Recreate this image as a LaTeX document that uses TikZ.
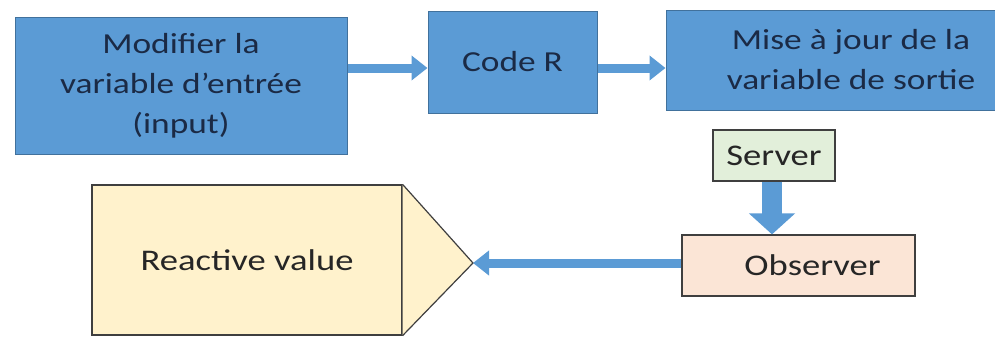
\documentclass[tikz,border=0pt]{standalone}
\usepackage{fontspec}
\setmainfont{Carlito}[FakeStretch=1.22]
\usetikzlibrary{arrows.meta, positioning, calc}
\definecolor{boxblue}{HTML}{5B9BD5}
\definecolor{borderblue}{HTML}{41719C}
\definecolor{textnavy}{HTML}{1B2A45}
\definecolor{servergreen}{HTML}{E2EFDA}
\definecolor{observerpink}{HTML}{FBE5D6}
\definecolor{reactiveyellow}{HTML}{FFF2CC}
\definecolor{edgegray}{HTML}{3F3F3F}

\begin{document}
\begin{tikzpicture}[x=1pt, y=-1pt,
  bluebox/.style={rectangle, draw=borderblue, fill=boxblue, line width=1pt, text=textnavy, align=center, font=\fontsize{29}{40}\selectfont},
  lightbox/.style={rectangle, draw=edgegray, line width=1.2pt, text=black!85, font=\fontsize{30}{36}\selectfont},
  flowarrow/.style={draw=boxblue, line width=9pt, -{Triangle[length=16pt, width=24pt]}},
  bigarrow/.style={draw=boxblue, line width=20pt, -{Triangle[length=21pt, width=45pt]}}
]
  \useasboundingbox (0,0) rectangle (995,338);
  \fill[white] (0,0) rectangle (995,338);

  % top row
  \node[bluebox, minimum width=332pt, minimum height=137pt] (modifier) at (181,86) {Modifier la\\variable d’entrée\\(input)};
  \node[bluebox, minimum width=169pt, minimum height=102pt] (coder) at (512.5,62) {Code R};
  \node[bluebox, minimum width=370pt, minimum height=100pt] (miseajour) at (851,60) {Mise à jour de la\\variable de sortie};

  % bottom row
  \node[lightbox, fill=servergreen, minimum width=122pt, minimum height=51pt] (server) at (774,155.5) {Server};
  \node[lightbox, fill=observerpink, minimum width=233pt, minimum height=61pt] (observer) at (798.5,265.5) {\hspace{28pt}Observer};
  \node[lightbox, fill=reactiveyellow, minimum width=310pt, minimum height=150pt] (reactive) at (247,260) {Reactive value};
  \coordinate (tip) at (473,263);
  \filldraw[draw=edgegray, fill=reactiveyellow, line width=1.2pt] (reactive.north east) -- (tip) -- (reactive.south east);

  % connectors
  \draw[flowarrow] ($(coder.west -| modifier.east)+(0,6)$) coordinate (a1) -- (a1 -| coder.west);
  \draw[flowarrow] ($(coder.east)+(0,6)$) coordinate (a2) -- (a2 -| miseajour.west);
  \draw[bigarrow] ([xshift=-2pt]server.south) -- ([xshift=-2pt]server.south |- observer.north);
  \draw[flowarrow] (observer.west |- tip) -- (tip);
\end{tikzpicture}
\end{document}
